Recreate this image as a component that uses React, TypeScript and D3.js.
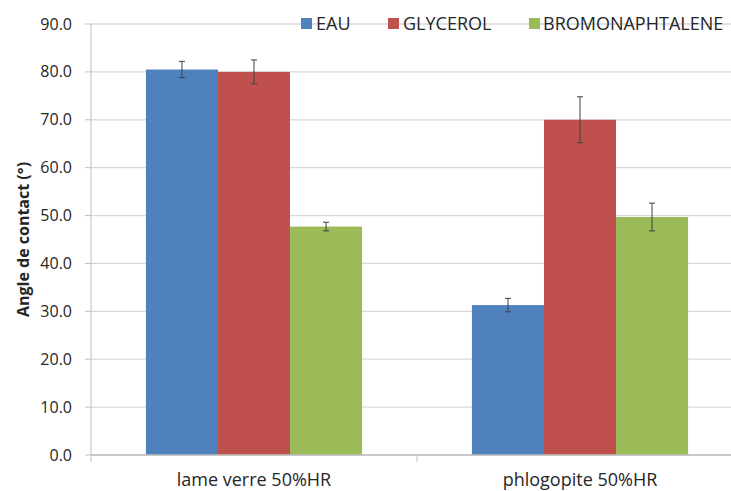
import React from 'react';
import * as d3 from 'd3';

const categories = ['lame verre 50%HR', 'phlogopite 50%HR'];
const seriesNames = ['EAU', 'GLYCEROL', 'BROMONAPHTALENE'];
const seriesColors = ['#4f81bd', '#c0504d', '#9bbb59'];
// values per series, one per category
const eauValues = [80.5, 31.3];
const glycerolValues = [80.0, 70.0];
const bromoValues = [47.7, 49.7];
// error bar half-widths
const eauErrors = [1.7, 1.4];
const glycerolErrors = [2.5, 4.8];
const bromoErrors = [0.9, 2.9];
const yTicks = [0, 10, 20, 30, 40, 50, 60, 70, 80, 90];

const values = [eauValues, glycerolValues, bromoValues];
const errors = [eauErrors, glycerolErrors, bromoErrors];

const W = 731;
const H = 491;
const margin = { left: 91, top: 24, right: -12, bottom: 36 };
const FONT = '"Open Sans", sans-serif';

const App: React.FC = () => {
  const x0 = d3.scaleBand<string>()
    .domain(categories)
    .range([margin.left, W - margin.right])
    .paddingInner(0.337)
    .paddingOuter(0.1685);
  const x1 = d3.scaleBand<string>()
    .domain(seriesNames)
    .range([0, x0.bandwidth()]);
  const y = d3.scaleLinear()
    .domain([0, 90])
    .range([H - margin.bottom, margin.top]);

  const step = x0.step();
  const catTicks = d3.range(categories.length + 1).map(i => margin.left + i * step);

  return (
    <div style={{ position: 'absolute', left: 0, top: 0 }}>
      <svg width={W} height={H} style={{ display: 'block', background: '#fff' }}>
        {/* gridlines */}
        {yTicks.map(t => (
          <g key={t}>
            <line x1={margin.left} x2={W} y1={y(t)} y2={y(t)} stroke="#d9d9d9" strokeWidth={1.3} />
            <line x1={margin.left - 6} x2={margin.left} y1={y(t)} y2={y(t)} stroke="#bfbfbf" />
            <text x={72} y={y(t)} dy="0.35em" textAnchor="end" fontFamily={FONT} fontSize={16} fill="#262626">
              {t.toFixed(1)}
            </text>
          </g>
        ))}
        {/* y axis line */}
        <line x1={margin.left} x2={margin.left} y1={margin.top} y2={y(0)} stroke="#bfbfbf" />
        {/* bars */}
        {categories.map((c, ci) => (
          <g key={c} transform={`translate(${x0(c)},0)`}>
            {seriesNames.map((s, si) => {
              const v = values[si][ci];
              const e = errors[si][ci];
              const bx = x1(s) as number;
              const cx = bx + x1.bandwidth() / 2;
              return (
                <g key={s}>
                  <rect x={bx} y={y(v)} width={x1.bandwidth()} height={y(0) - y(v)} fill={seriesColors[si]} />
                  <line x1={cx} x2={cx} y1={y(v + e)} y2={y(v - e)} stroke="#404040" strokeWidth={1} />
                  <line x1={cx - 3} x2={cx + 3} y1={y(v + e)} y2={y(v + e)} stroke="#404040" strokeWidth={1} />
                  <line x1={cx - 3} x2={cx + 3} y1={y(v - e)} y2={y(v - e)} stroke="#404040" strokeWidth={1} />
                </g>
              );
            })}
          </g>
        ))}
        {/* x axis */}
        <line x1={margin.left} x2={W} y1={y(0)} y2={y(0)} stroke="#bfbfbf" strokeWidth={1.3} />
        {catTicks.map((tx, i) => (
          <line key={i} x1={tx} x2={tx} y1={y(0)} y2={y(0) + 7} stroke="#bfbfbf" />
        ))}
        {categories.map(c => (
          <text key={c} x={(x0(c) as number) + x0.bandwidth() / 2} y={486} textAnchor="middle"
            fontFamily={FONT} fontSize={18} fill="#262626">{c}</text>
        ))}
        {/* y axis title */}
        <text transform={`translate(29,${(margin.top + y(0)) / 2}) rotate(-90)`} textAnchor="middle"
          fontFamily={FONT} fontSize={16} fontWeight="bold" fill="#262626">Angle de contact (°)</text>
        {/* legend */}
        {[{ sx: 301, tx: 316 }, { sx: 388, tx: 403 }, { sx: 529, tx: 543 }].map((p, i) => (
          <g key={seriesNames[i]}>
            <rect x={p.sx} y={18} width={11} height={11} fill={seriesColors[i]} />
            <text x={p.tx} y={30} fontFamily={FONT} fontSize={18} fill="#262626">{seriesNames[i]}</text>
          </g>
        ))}
      </svg>
    </div>
  );
};

export default App;
